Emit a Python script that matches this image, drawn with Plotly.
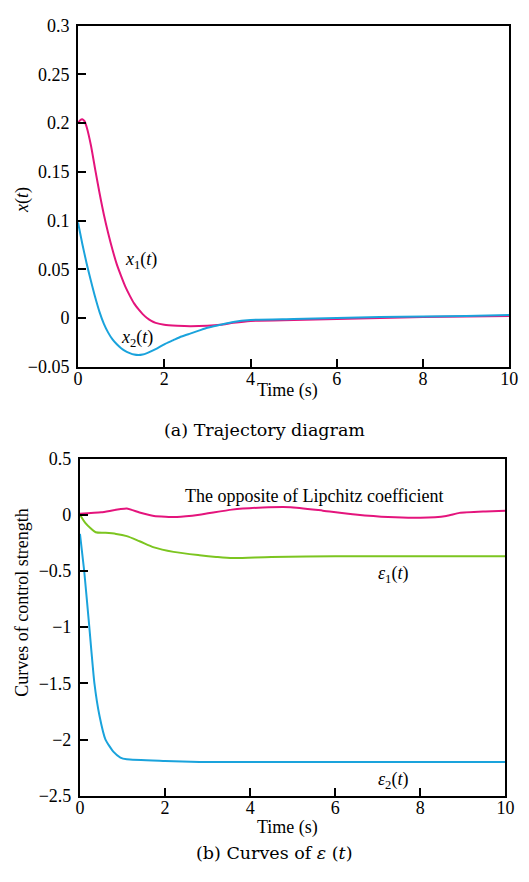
import plotly.graph_objects as go

# ---- (a) trajectory data ----
t_x1 = [0, 0.05, 0.1, 0.15, 0.2, 0.3, 0.4, 0.5, 0.6, 0.7, 0.8, 0.9, 1.0, 1.1, 1.2, 1.3,
        1.4, 1.5, 1.6, 1.7, 1.8, 2.0, 2.3, 2.6, 3.0, 3.3, 3.6, 4.0, 5, 6, 7, 8, 9, 10]
x1_vals = [0.200, 0.203, 0.204, 0.202, 0.196, 0.177, 0.152, 0.128, 0.106, 0.087, 0.070,
           0.055, 0.043, 0.032, 0.023, 0.015, 0.009, 0.004, 0.000, -0.003, -0.005, -0.007,
           -0.008, -0.0085, -0.008, -0.007, -0.005, -0.003, -0.002, -0.001, 0.000, 0.001,
           0.0015, 0.002]

t_x2 = [0, 0.1, 0.2, 0.3, 0.4, 0.5, 0.6, 0.7, 0.8, 0.9, 1.0, 1.1, 1.2, 1.3, 1.4, 1.5,
        1.6, 1.8, 2.0, 2.2, 2.4, 2.6, 2.8, 3.0, 3.3, 3.6, 4.0, 5, 6, 7, 8, 9, 10]
x2_vals = [0.098, 0.076, 0.056, 0.038, 0.021, 0.006, -0.006, -0.015, -0.022, -0.027,
           -0.031, -0.034, -0.036, -0.0375, -0.038, -0.0375, -0.036, -0.032, -0.027,
           -0.023, -0.019, -0.016, -0.013, -0.010, -0.007, -0.004, -0.002, -0.001, 0.000,
           0.001, 0.0015, 0.002, 0.003]

# ---- (b) control strength data ----
t_lip = [0, 0.5, 1.1, 1.4, 1.74, 2.28, 2.81, 3.57, 4.3, 4.95, 5.71, 6.47, 7.24, 8.0,
         8.61, 8.92, 9.53, 10]
lip_vals = [0.01, 0.022, 0.055, 0.02, -0.01, -0.02, 0.0, 0.046, 0.065, 0.068, 0.037,
            0.003, -0.02, -0.026, -0.01, 0.017, 0.03, 0.037]

t_e1 = [0, 0.12, 0.25, 0.37, 0.6, 0.85, 1.1, 1.4, 1.74, 2.2, 2.81, 3.2, 3.6, 4.5, 6, 8, 10]
e1_vals = [0, -0.07, -0.12, -0.155, -0.16, -0.17, -0.19, -0.235, -0.29, -0.33, -0.36,
           -0.375, -0.385, -0.375, -0.37, -0.37, -0.37]

t_e2 = [0, 0.1, 0.22, 0.34, 0.46, 0.6, 0.79, 0.95, 1.1, 2.0, 2.81, 4, 6, 8, 10]
e2_vals = [-0.17, -0.5, -1.0, -1.5, -1.79, -2.0, -2.11, -2.16, -2.175, -2.19, -2.2,
           -2.2, -2.2, -2.2, -2.2]

MAGENTA = "#E4147C"
CYAN = "#1AA3DC"
GREEN = "#7CC520"
SERIF = "Liberation Serif, Times New Roman, serif"
CAPTION_FONT = "DejaVu Serif, serif"

fig = go.Figure()

fig.add_trace(go.Scatter(x=t_x1, y=x1_vals, mode="lines", xaxis="x", yaxis="y",
                         line=dict(color=MAGENTA, width=2, shape="spline", smoothing=0.6)))
fig.add_trace(go.Scatter(x=t_x2, y=x2_vals, mode="lines", xaxis="x", yaxis="y",
                         line=dict(color=CYAN, width=2, shape="spline", smoothing=0.6)))

fig.add_trace(go.Scatter(x=t_lip, y=lip_vals, mode="lines", xaxis="x2", yaxis="y2",
                         line=dict(color=MAGENTA, width=2, shape="spline", smoothing=0.5)))
fig.add_trace(go.Scatter(x=t_e1, y=e1_vals, mode="lines", xaxis="x2", yaxis="y2",
                         line=dict(color=GREEN, width=2, shape="spline", smoothing=0.8)))
fig.add_trace(go.Scatter(x=t_e2, y=e2_vals, mode="lines", xaxis="x2", yaxis="y2",
                         line=dict(color=CYAN, width=2, shape="spline", smoothing=0.5)))

W, H = 529, 882


def px_x(v):
    return v / W


def px_y(v):
    return 1 - v / H


axis_common = dict(
    showline=True, linecolor="black", linewidth=2, mirror=True,
    ticks="inside", ticklen=8, tickwidth=2, tickcolor="black",
    showgrid=False, zeroline=False,
    tickfont=dict(family=SERIF, size=18, color="black"),
)

fig.update_layout(
    width=W, height=H,
    margin=dict(l=0, r=0, t=0, b=0),
    paper_bgcolor="white", plot_bgcolor="white",
    showlegend=False,
    xaxis=dict(domain=[px_x(75), px_x(518)], range=[0, 10], dtick=2, anchor="y",
               ticklabelstandoff=-5, **axis_common),
    yaxis=dict(domain=[px_y(365), px_y(16)], range=[-0.05, 0.3], dtick=0.05, anchor="x",
               ticklabelstandoff=3, **axis_common),
    xaxis2=dict(domain=[px_x(77), px_x(514)], range=[0, 10], dtick=2, anchor="y2",
                ticklabelstandoff=-5, **axis_common),
    yaxis2=dict(domain=[px_y(804), px_y(459)], range=[-2.5, 0.5], dtick=0.5, anchor="x2",
                ticklabelstandoff=3, **axis_common),
)

label_font = dict(family=SERIF, size=18, color="black")
caption_font = dict(family=CAPTION_FONT, size=17.5, color="black")


def note(x, y, text, xref="paper", yref="paper", font=label_font, angle=0):
    return dict(x=x, y=y, xref=xref, yref=yref, text=text, showarrow=False,
                xanchor="center", yanchor="middle", textangle=angle, font=font)


annotations = [
    # curve labels
    note(1.47, 0.059, "<i>x</i><sub>1</sub>(<i>t</i>)", "x", "y"),
    note(1.36, -0.021, "<i>x</i><sub>2</sub>(<i>t</i>)", "x", "y"),
    note(5.52, 0.17, "The opposite of Lipchitz coefficient", "x2", "y2"),
    note(7.35, -0.53, "<i>ε</i><sub>1</sub>(<i>t</i>)", "x2", "y2"),
    note(7.35, -2.36, "<i>ε</i><sub>2</sub>(<i>t</i>)", "x2", "y2"),
    # axis titles
    note(px_x(290), px_y(389), "Time (s)"),
    note(px_x(290), px_y(836), "Time (s)"),
    note(px_x(18), px_y(195), "<i>x</i>(<i>t</i>)", angle=-90),
    note(px_x(18), px_y(607), "Curves of control strength", angle=-90),
    # captions
    note(px_x(267), px_y(430), "(a) Trajectory diagram", font=caption_font),
    note(px_x(276), px_y(863), "(b) Curves of <i>ε</i> (<i>t</i>)", font=caption_font),
]
fig.update_layout(annotations=annotations)

# the figure fills the page exactly, so drop the browser's default body margin
fig.write_html("out.html",
               post_script="document.body.style.margin='0';"
                           "document.body.style.overflow='hidden';")
